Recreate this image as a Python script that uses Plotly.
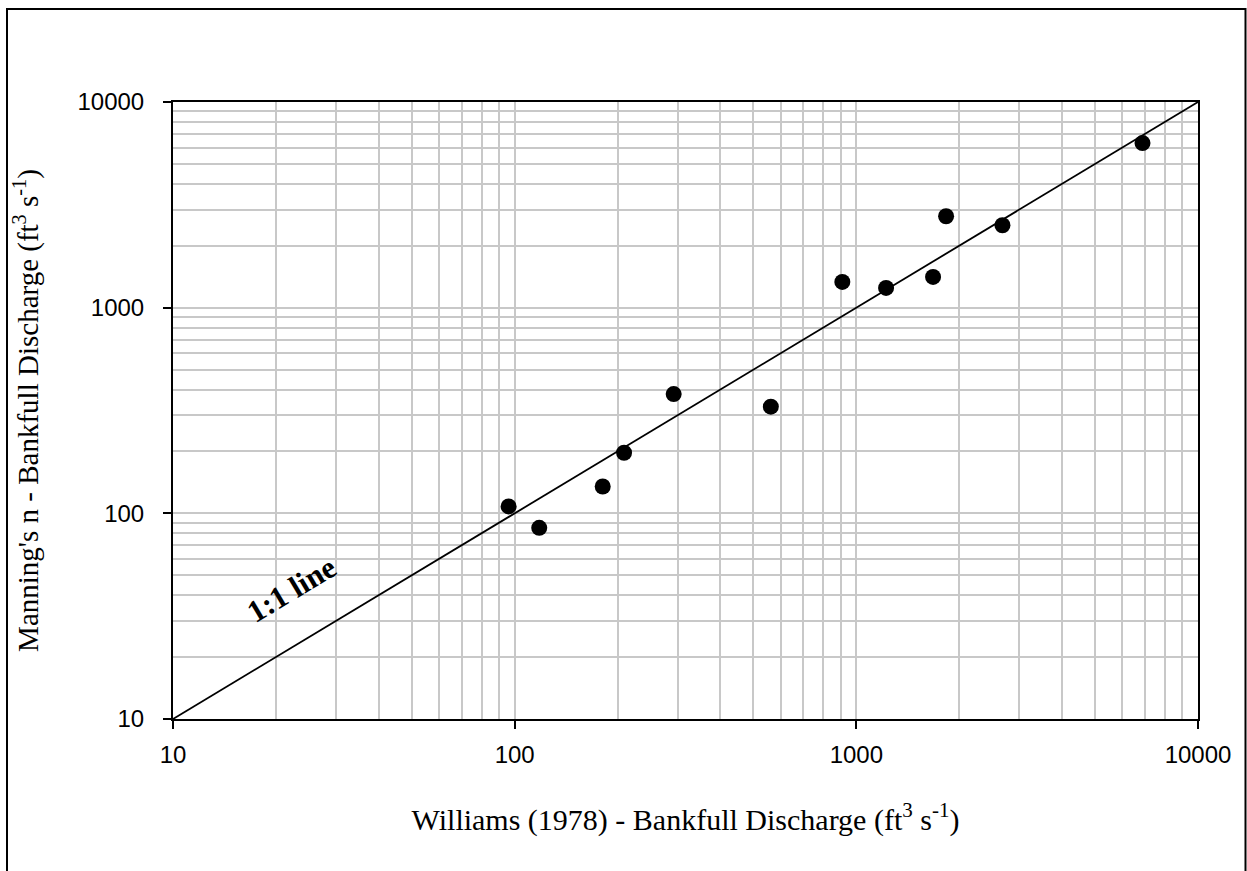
import plotly.graph_objects as go

# Data
williams_q = [96, 118, 181, 209, 292, 562, 910, 1222, 1677, 1831, 2677, 6879]
manning_q = [108, 85, 135, 197, 380, 330, 1334, 1248, 1411, 2782, 2516, 6316]
one_to_one = [10, 10000]
tick_vals = [10, 100, 1000, 10000]
tick_text = ["10", "100", "1000", "10000"]

W, H = 1247, 871
L, R, T, B = 173, 49, 102, 152
pw, ph = W - L - R, H - T - B

fig = go.Figure()
fig.add_trace(go.Scatter(x=one_to_one, y=one_to_one, mode="lines",
                         line=dict(color="black", width=1.8), hoverinfo="skip"))
fig.add_trace(go.Scatter(x=williams_q, y=manning_q, mode="markers",
                         marker=dict(color="black", size=16)))

axis_common = dict(
    type="log",
    range=[1, 4],
    tickvals=tick_vals,
    ticktext=tick_text,
    ticks="outside",
    ticklen=8,
    tickwidth=1.5,
    tickcolor="black",
    showline=True,
    linecolor="black",
    linewidth=2,
    mirror=True,
    showgrid=True,
    gridcolor="#c8c8c8",
    gridwidth=1.5,
    minor=dict(dtick="D1", showgrid=True, gridcolor="#c8c8c8", gridwidth=1.5, ticks=""),
    tickfont=dict(family="Liberation Sans, Arial", size=24, color="black"),
    zeroline=False,
)

fig.update_xaxes(**axis_common,
                 ticklabelstandoff=5,
                 title=dict(text="Williams (1978) - Bankfull Discharge (ft<sup>3</sup> s<sup>-1</sup>)",
                            font=dict(family="Liberation Serif, Times New Roman", size=30, color="black"),
                            standoff=42))
fig.update_yaxes(**axis_common,
                 ticklabelstandoff=14,
                 title=dict(text="Manning's n - Bankfull Discharge (ft<sup>3</sup> s<sup>-1</sup>)",
                            font=dict(family="Liberation Serif, Times New Roman", size=29, color="black"),
                            standoff=30))

fig.add_annotation(x=1.3467, y=1.628, xref="x", yref="y", text="<b>1:1 line</b>",
                   showarrow=False, textangle=-31,
                   font=dict(family="Liberation Serif, Times New Roman", size=31, color="black"))

# outer frame
fig.add_shape(type="rect", xref="paper", yref="paper",
              x0=(7 - L) / pw, x1=(1245.5 - L) / pw,
              y0=(H - B - 885) / ph, y1=(H - B - 9) / ph,
              line=dict(color="black", width=2), layer="below")

fig.update_layout(
    width=W, height=H,
    margin=dict(l=L, r=R, t=T, b=B),
    paper_bgcolor="white",
    plot_bgcolor="white",
    showlegend=False,
)

fig.write_html("out.html")
